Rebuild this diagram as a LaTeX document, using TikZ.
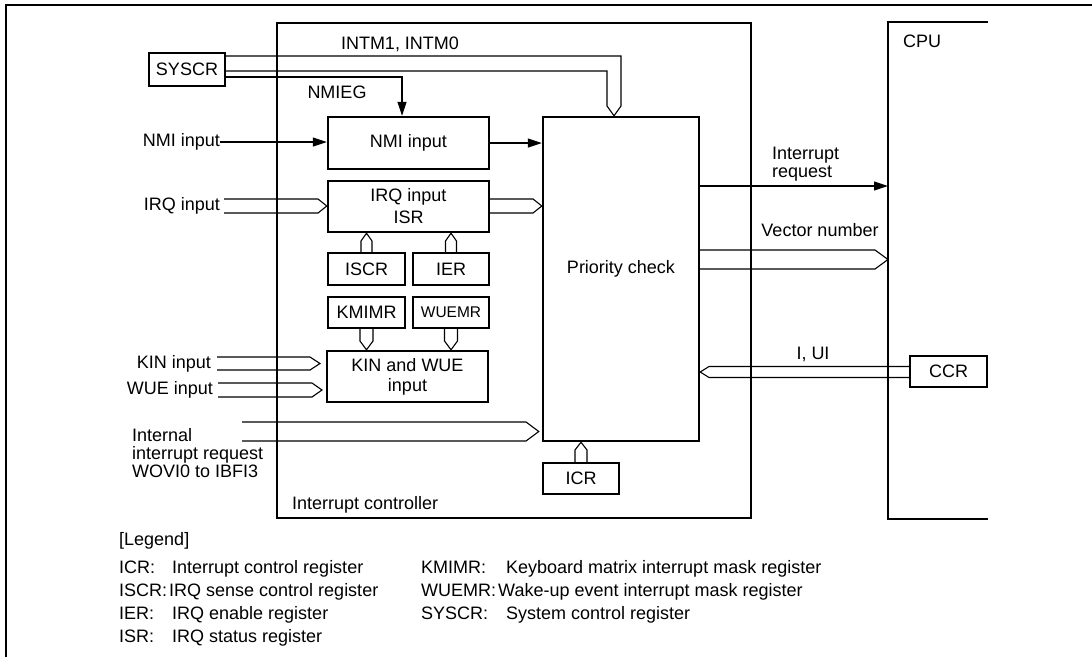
\documentclass[tikz,border=0pt]{standalone}
\usepackage{fontspec}
\setmainfont{Liberation Sans}
\usetikzlibrary{arrows.meta,calc}
\begin{document}
\begin{tikzpicture}[x=1pt,y=-1pt,
  lbl/.style={font=\fontsize{18}{22}\selectfont, inner sep=0pt, text height=13pt, text depth=4pt},
  mlbl/.style={font=\fontsize{18}{18}\selectfont, inner sep=0pt, align=left},
  blk/.style={draw, line width=2.4pt, inner sep=0pt, font=\fontsize{18}{22}\selectfont, align=center},
  bus/.style={line width=1.1pt, line join=miter},
  arr/.style={line width=1.1pt, -{Triangle[length=14pt,width=9pt]}},
  frm/.style={line width=2.4pt}]
\useasboundingbox (0,0) rectangle (1092,657);
% outer frame
\draw[frm] (6,657) -- (6,5) -- (1092,5);
% interrupt controller
\node[blk, minimum width=474pt, minimum height=495pt] (ctrl) at (514,270.5) {};
\node[lbl, anchor=west] (ctrllbl) at (292,505) {Interrupt controller};
% CPU
\coordinate (cpul) at (888,22);
\draw[frm] (988,22) -- (cpul) -- (888,519) -- (988,519);
\node[lbl] (cpulbl) at (922,43) {CPU};
% blocks
\node[blk, minimum width=76pt, minimum height=33pt] (syscr) at (187,69.5) {SYSCR};
\node[blk, minimum width=161pt, minimum height=52pt] (nmi) at (408.5,143) {NMI input};
\node[blk, minimum width=161pt, minimum height=51pt] (irq) at (408.5,206.5) {IRQ input\\ISR};
\node[blk, minimum width=77pt, minimum height=32pt] (iscr) at (366.5,269) {ISCR};
\node[blk, minimum width=76pt, minimum height=32pt] (ier) at (451,269) {IER};
\node[blk, minimum width=77pt, minimum height=31pt] (kmimr) at (366.5,312.5) {KMIMR};
\node[blk, minimum width=76pt, minimum height=31pt, font=\fontsize{15.5}{18}\selectfont] (wuemr) at (451,312.5) {WUEMR};
\node[blk, minimum width=161pt, minimum height=51pt, font=\fontsize{18}{20}\selectfont] (kin) at (407.5,376.5) {KIN and WUE\\input};
\node[blk, minimum width=156pt, minimum height=324pt] (prio) at (621,279) {};
\node[lbl] (priotxt) at (621,269) {Priority check};
\node[blk, minimum width=76pt, minimum height=31pt] (icr) at (581,478.5) {ICR};
\node[blk, minimum width=77pt, minimum height=31pt] (ccr) at (948.5,371.5) {CCR};
% labels
\node[lbl] (intm) at (400,45) {INTM1, INTM0};
\node[lbl] (nmieg) at (337,94) {NMIEG};
\node[lbl, anchor=east] (nmiin) at (220,142) {NMI input};
\node[lbl, anchor=east] (irqin) at (220,206) {IRQ input};
\node[lbl, anchor=east] (kinin) at (211,364) {KIN input};
\node[lbl, anchor=east] (wuein) at (213,390) {WUE input};
\node[mlbl, anchor=north west] (intin) at (132,428) {Internal\\interrupt request\\WOVI0 to IBFI3};
\node[mlbl, anchor=north west] (intreq) at (772,147) {Interrupt\\request};
\node[lbl] (vecnum) at (820,232) {Vector number};
\node[lbl] (iui) at (813,355) {I, UI};
% SYSCR -> priority (INTM1, INTM0)
\draw[bus] (syscr.east |- 0,56) -- (621,56) -- (621,106) -- (prio.north -| 614,0) -- (607,106) -- (607,71) -- (syscr.east |- 0,71);
% NMIEG
\draw[arr] (syscr.east |- 0,77) -- (402,77) -- (nmi.north -| 402,0);
% NMI input
\draw[arr] (nmiin.east) -- (nmi.west |- nmiin.east);
\draw[arr] (nmi.east) -- (prio.west |- nmi.east);
% IRQ input bus
\draw[bus] ($(irqin.east |- 0,199)+(4,0)$) -- (318,199) -- (irq.west |- 0,206) -- (318,213) -- ($(irqin.east |- 0,213)+(4,0)$);
\draw[bus] (irq.east |- 0,199) -- (533,199) -- (prio.west |- 0,206) -- (533,213) -- (irq.east |- 0,213);
% ISCR, IER -> IRQ
\draw[bus] (iscr.north -| 361,0) -- (361,241) -- (irq.south -| 366.5,0) -- (372,241) -- (iscr.north -| 372,0);
\draw[bus] (ier.north -| 445.5,0) -- (445.5,241) -- (irq.south -| 451,0) -- (456.5,241) -- (ier.north -| 456.5,0);
% KMIMR, WUEMR -> KIN
\draw[bus] (kmimr.south -| 360,0) -- (360,341) -- (kin.north -| 366.5,0) -- (373,341) -- (kmimr.south -| 373,0);
\draw[bus] (wuemr.south -| 444.5,0) -- (444.5,341) -- (kin.north -| 451,0) -- (457.5,341) -- (wuemr.south -| 457.5,0);
% KIN / WUE input buses
\draw[bus] ($(kinin.east |- 0,357)+(6,0)$) -- (310,357) -- (320,363.5) -- (310,370) -- ($(kinin.east |- 0,370)+(6,0)$);
\draw[bus] ($(wuein.east |- 0,383)+(5,0)$) -- (312,383) -- (322,390) -- (312,397) -- ($(wuein.east |- 0,397)+(5,0)$);
% internal interrupt request bus
\draw[bus] (242,422) -- (526,422) -- ($(prio.west |- 0,431.5)+(-3,0)$) -- (526,441) -- (242,441);
% ICR -> priority
\draw[bus] (icr.north -| 575,0) -- (575,450) -- (prio.south -| 581,0) -- (587,450) -- (icr.north -| 587,0);
% interrupt request
\draw[arr] (prio.east |- 0,186) -- (cpul |- 0,186);
% vector number
\draw[bus] (prio.east |- 0,250) -- (875,250) -- (cpul |- 0,259.5) -- (875,269) -- (prio.east |- 0,269);
% I, UI
\draw[bus] (ccr.west |- 0,366.5) -- (709,366.5) -- (prio.east |- 0,372) -- (709,377.5) -- (ccr.west |- 0,377.5);
% legend
\node[lbl, anchor=west] (leg) at (119,541) {[Legend]};
\node[lbl, anchor=west] (k1) at (119,569) {ICR:};
\node[lbl, anchor=west] (d1) at (172,569) {Interrupt control register};
\node[lbl, anchor=west] (k2) at (119,592) {ISCR:};
\node[lbl, anchor=west] (d2) at (169,592) {IRQ sense control register};
\node[lbl, anchor=west] (k3) at (119,615) {IER:};
\node[lbl, anchor=west] (d3) at (172,615) {IRQ enable register};
\node[lbl, anchor=west] (k4) at (119,638) {ISR:};
\node[lbl, anchor=west] (d4) at (172,638) {IRQ status register};
\node[lbl, anchor=west] (k5) at (421,569) {KMIMR:};
\node[lbl, anchor=west] (d5) at (506,569) {Keyboard matrix interrupt mask register};
\node[lbl, anchor=west] (k6) at (421,592) {WUEMR:};
\node[lbl, anchor=west] (d6) at (498,592) {Wake-up event interrupt mask register};
\node[lbl, anchor=west] (k7) at (421,615) {SYSCR:};
\node[lbl, anchor=west] (d7) at (506,615) {System control register};
\end{tikzpicture}
\end{document}
